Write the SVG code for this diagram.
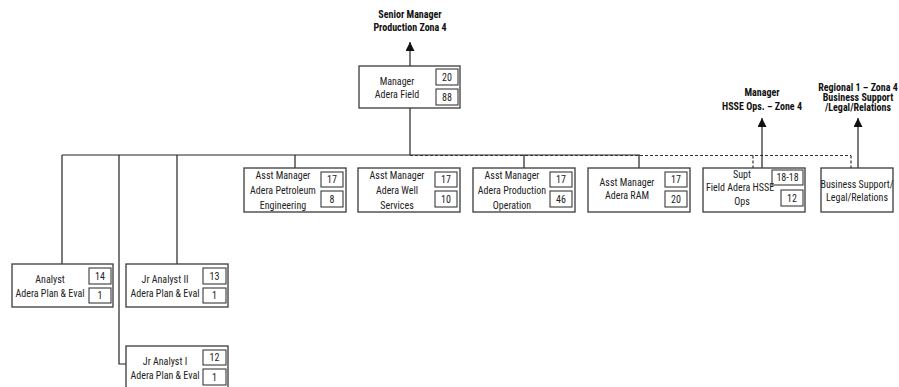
<svg xmlns="http://www.w3.org/2000/svg" width="899" height="387" viewBox="0 0 899 387">
<defs>
<style>
.box{fill:#fff;stroke:#3a3a3a;stroke-width:1.3}
.num{fill:#fff;stroke:#3a3a3a;stroke-width:1.1}
.t{font-family:"Liberation Sans Narrow","Roboto Condensed","Liberation Sans",sans-serif;font-size:10px;fill:#222;text-anchor:middle}
.b{font-family:"Liberation Sans Narrow","Roboto Condensed","Liberation Sans",sans-serif;font-size:10px;font-weight:bold;fill:#111;text-anchor:middle}
.ln{fill:none;stroke:#222;stroke-width:1.2}
.dash{fill:none;stroke:#333;stroke-width:1.2;stroke-dasharray:3 2}
</style>
<marker id="ah" viewBox="0 0 10 10" refX="10" refY="5" markerWidth="8" markerHeight="8" markerUnits="userSpaceOnUse" orient="auto">
<path d="M0,0 L10,5 L0,10 z" fill="#111"/>
</marker>
<marker id="ahL" viewBox="0 0 10 10" refX="10" refY="5" markerWidth="12" markerHeight="9" markerUnits="userSpaceOnUse" orient="auto">
<path d="M0,0 L10,5 L0,10 z" fill="#111"/>
</marker>
</defs>

<g id="labels">
<text class="b" x="410" y="18">Senior Manager</text>
<text class="b" x="410" y="31">Production Zona 4</text>
<text class="b" x="762" y="96">Manager</text>
<text class="b" x="762" y="110">HSSE Ops. – Zone 4</text>
<text class="b" x="858" y="91">Regional 1 – Zona 4</text>
<text class="b" x="858" y="101">Business Support</text>
<text class="b" x="858" y="111">/Legal/Relations</text>
</g>

<g id="connectors">
<line class="ln" x1="410" y1="66" x2="410" y2="42" marker-end="url(#ahL)"/>
<line class="ln" x1="410" y1="108" x2="410" y2="155"/>
<line class="ln" x1="62" y1="155" x2="640" y2="155"/>
<line class="dash" x1="410" y1="155.5" x2="851" y2="155.5"/>
<line class="dash" x1="851" y1="155.5" x2="851" y2="168"/>
<line class="dash" x1="753" y1="155.5" x2="753" y2="168"/>
<line class="ln" x1="295" y1="155" x2="295" y2="168"/>
<line class="ln" x1="524" y1="155" x2="524" y2="168"/>
<line class="ln" x1="639" y1="155" x2="639" y2="168"/>
<line class="ln" x1="762" y1="168" x2="762" y2="118" marker-end="url(#ahL)"/>
<line class="ln" x1="858" y1="168" x2="858" y2="118" marker-end="url(#ahL)"/>
<line class="ln" x1="62" y1="155" x2="62" y2="264"/>
<line class="ln" x1="177" y1="155" x2="177" y2="264"/>
<polyline class="ln" points="119,155 119,364 126,364"/>
</g>

<g id="manager">
<rect class="box" x="359" y="66" width="101" height="42"/>
<rect class="num" x="436" y="69" width="22" height="16"/>
<rect class="num" x="436" y="89" width="22" height="16"/>
<text class="t" x="397" y="85">Manager</text>
<text class="t" x="397" y="98">Adera Field</text>
<text class="t" x="447" y="81">20</text>
<text class="t" x="447" y="101">88</text>
</g>

<g id="asst-pe">
<rect class="box" x="244" y="168" width="102" height="44"/>
<rect class="num" x="321" y="172" width="22" height="15"/>
<rect class="num" x="321" y="191" width="22" height="16"/>
<text class="t" x="283" y="179">Asst Manager</text>
<text class="t" x="283" y="194">Adera Petroleum</text>
<text class="t" x="283" y="209">Engineering</text>
<text class="t" x="332" y="183">17</text>
<text class="t" x="332" y="203">8</text>
</g>

<g id="asst-ws">
<rect class="box" x="358" y="168" width="102" height="44"/>
<rect class="num" x="435" y="172" width="22" height="15"/>
<rect class="num" x="435" y="191" width="22" height="16"/>
<text class="t" x="397" y="179">Asst Manager</text>
<text class="t" x="397" y="194">Adera Well</text>
<text class="t" x="397" y="209">Services</text>
<text class="t" x="446" y="183">17</text>
<text class="t" x="446" y="203">10</text>
</g>

<g id="asst-po">
<rect class="box" x="473" y="168" width="102" height="44"/>
<rect class="num" x="550" y="172" width="22" height="15"/>
<rect class="num" x="550" y="191" width="22" height="16"/>
<text class="t" x="512" y="179">Asst Manager</text>
<text class="t" x="512" y="194">Adera Production</text>
<text class="t" x="512" y="209">Operation</text>
<text class="t" x="561" y="183">17</text>
<text class="t" x="561" y="203">46</text>
</g>

<g id="asst-ram">
<rect class="box" x="588" y="168" width="102" height="44"/>
<rect class="num" x="665" y="172" width="22" height="15"/>
<rect class="num" x="665" y="191" width="22" height="16"/>
<text class="t" x="627" y="186">Asst Manager</text>
<text class="t" x="627" y="199">Adera RAM</text>
<text class="t" x="676" y="183">17</text>
<text class="t" x="676" y="203">20</text>
</g>

<g id="supt-hsse">
<rect class="box" x="703" y="168" width="102" height="44"/>
<rect class="num" x="772" y="170" width="31" height="15"/>
<rect class="num" x="781" y="190" width="22" height="16"/>
<text class="t" x="742" y="178">Supt</text>
<text class="t" x="740" y="191">Field Adera HSSE</text>
<text class="t" x="742" y="205">Ops</text>
<text class="t" x="787.5" y="181">18-18</text>
<text class="t" x="792" y="202">12</text>
</g>

<g id="business-support">
<rect class="box" x="821" y="168" width="72" height="44"/>
<text class="t" x="857" y="188">Business Support/</text>
<text class="t" x="857" y="201">Legal/Relations</text>
</g>

<g id="analyst">
<rect class="box" x="12" y="264" width="101" height="43"/>
<rect class="num" x="89" y="268" width="22" height="16"/>
<rect class="num" x="89" y="288" width="22" height="15"/>
<text class="t" x="50" y="283">Analyst</text>
<text class="t" x="50" y="297">Adera Plan &amp; Eval</text>
<text class="t" x="100" y="280">14</text>
<text class="t" x="100" y="299">1</text>
</g>

<g id="jr-analyst-2">
<rect class="box" x="126" y="264" width="102" height="43"/>
<rect class="num" x="203" y="268" width="23" height="16"/>
<rect class="num" x="203" y="288" width="23" height="15"/>
<text class="t" x="165" y="283">Jr Analyst II</text>
<text class="t" x="165" y="297">Adera Plan &amp; Eval</text>
<text class="t" x="214.5" y="280">13</text>
<text class="t" x="214.5" y="299">1</text>
</g>

<g id="jr-analyst-1">
<rect class="box" x="126" y="346" width="102" height="43"/>
<rect class="num" x="203" y="350" width="23" height="15"/>
<rect class="num" x="203" y="369" width="23" height="16"/>
<text class="t" x="165" y="365">Jr Analyst I</text>
<text class="t" x="165" y="379">Adera Plan &amp; Eval</text>
<text class="t" x="214.5" y="361">12</text>
<text class="t" x="214.5" y="381">1</text>
</g>
</svg>
